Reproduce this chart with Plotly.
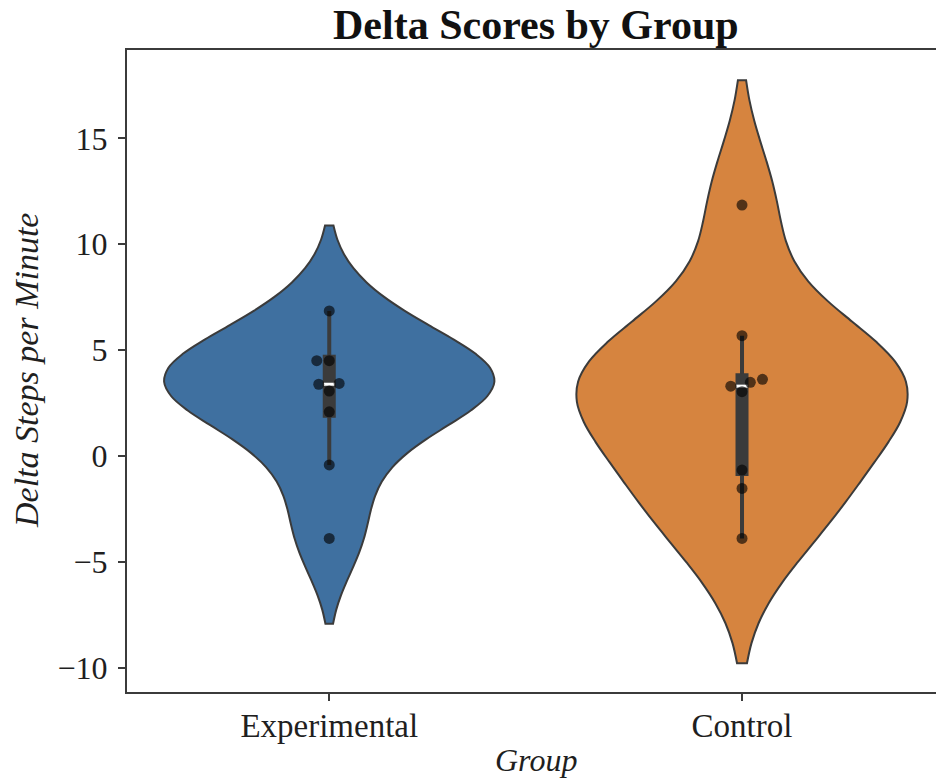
import numpy as np
import plotly.graph_objects as go

# ---- data ----
groups = ["Experimental", "Control"]
experimental = [6.85, 4.50, 4.50, 3.39, 3.43, 3.07, 2.09, -0.42, -3.89]
control = [11.85, 5.68, 3.30, 3.48, 3.62, 3.04, -0.66, -1.53, -3.89]
series = [experimental, control]
fill_colors = ["#3f70a0", "#d6843f"]
y_ticks = [-10, -5, 0, 5, 10, 15]

# ---- layout geometry ----
W, H = 936, 778
M_L, M_R, M_T, M_B = 127, 0, 50, 86
X_RANGE = [-0.49, 1.47]
Y_RANGE = [-11.14, 19.17]
px_per_x = (W - M_L - M_R) / (X_RANGE[1] - X_RANGE[0])
px_per_y = (H - M_T - M_B) / (Y_RANGE[1] - Y_RANGE[0])

EDGE = "#3b3b3b"
FONT = "Liberation Serif"
TEXT = "#1f1f1f"


def scott_bw(vals):
    v = np.asarray(vals, float)
    return v.std(ddof=1) * len(v) ** (-1 / 5)


def swarm_offsets(vals, d_px=12.5):
    """Simple beeswarm: place points (sorted by value) at the offset closest
    to the centre line that does not overlap already placed points."""
    v = np.asarray(vals, float)
    order = np.argsort(v, kind="stable")
    placed = []
    out = np.zeros(len(v))
    for i in order:
        y = v[i] * px_per_y
        cands = [0.0]
        for px, py in placed:
            dy = abs(y - py)
            if dy < d_px:
                dx = np.sqrt(d_px ** 2 - dy ** 2)
                cands += [px - dx, px + dx]
        cands.sort(key=lambda c: (round(abs(c), 6), c))
        for c in cands:
            if all((c - px) ** 2 + (y - py) ** 2 >= d_px ** 2 - 1e-6 for px, py in placed):
                break
        placed.append((c, y))
        out[i] = c / px_per_x
    return out


fig = go.Figure()

for pos, (name, vals, col) in enumerate(zip(groups, series, fill_colors)):
    v = np.asarray(vals, float)
    bw = scott_bw(v)
    fig.add_trace(go.Violin(
        x=[pos] * len(v), y=v, name=name,
        bandwidth=bw, spanmode="soft", scalemode="width", width=0.8,
        fillcolor=col, opacity=1, line=dict(color=EDGE, width=2),
        points=False, box_visible=False, meanline_visible=False,
        hoverinfo="skip", showlegend=False,
    ))

    # inner box: whiskers, interquartile bar, median
    q1, med, q3 = np.percentile(v, [25, 50, 75])
    iqr = q3 - q1
    lo = v[v >= q1 - 1.5 * iqr].min()
    hi = v[v <= q3 + 1.5 * iqr].max()
    cap = 6 / px_per_y
    fig.add_trace(go.Scatter(
        x=[pos, pos], y=[lo, hi], mode="lines",
        line=dict(color=EDGE, width=4), hoverinfo="skip", showlegend=False,
    ))
    fig.add_trace(go.Scatter(
        x=[pos, pos], y=[q1 - cap, q3 + cap], mode="lines",
        line=dict(color=EDGE, width=13), hoverinfo="skip", showlegend=False,
    ))
    fig.add_trace(go.Scatter(
        x=[pos], y=[med], mode="markers",
        marker=dict(symbol="line-ew", size=8, color="white",
                    line=dict(color="white", width=3)),
        hoverinfo="skip", showlegend=False,
    ))

    # swarm of observations
    fig.add_trace(go.Scatter(
        x=pos + swarm_offsets(v), y=v, mode="markers",
        marker=dict(size=11, color="rgba(0,0,0,0.62)", line=dict(width=0)),
        hoverinfo="skip", showlegend=False,
    ))

mid_axes = (0.5 - X_RANGE[0]) / (X_RANGE[1] - X_RANGE[0])
plot_h = H - M_T - M_B
plot_w = W - M_L - M_R

fig.update_layout(
    width=W, height=H,
    margin=dict(l=M_L, r=M_R, t=M_T, b=M_B, pad=0),
    paper_bgcolor="white", plot_bgcolor="white",
    violinmode="overlay",
    font=dict(family=FONT, size=32, color=TEXT),
    annotations=[
        dict(text="<b>Delta Scores by Group</b>", xref="paper", yref="paper",
             x=mid_axes, y=1 + 25 / plot_h, xanchor="center", yanchor="middle",
             showarrow=False, font=dict(family=FONT, size=42, color="#111111")),
        dict(text="<i>Group</i>", xref="paper", yref="paper",
             x=mid_axes, y=-68 / plot_h, xanchor="center", yanchor="middle",
             showarrow=False, font=dict(family=FONT, size=32, color=TEXT)),
        dict(text="<i>Delta Steps per Minute</i>", xref="paper", yref="paper",
             x=-101 / plot_w, y=0.5, xanchor="center", yanchor="middle",
             textangle=-90, showarrow=False,
             font=dict(family=FONT, size=34, color=TEXT)),
    ],
)

fig.update_xaxes(
    range=X_RANGE, tickmode="array", tickvals=[0, 1], ticktext=groups,
    showgrid=False, zeroline=False,
    showline=True, linecolor=EDGE, linewidth=2, mirror=True,
    ticks="outside", ticklen=7, tickwidth=1.6, tickcolor=EDGE,
    tickfont=dict(family=FONT, size=33, color=TEXT),
    ticklabelstandoff=-4,
)
fig.update_yaxes(
    range=Y_RANGE, tickmode="array", tickvals=y_ticks,
    showgrid=False, zeroline=False,
    showline=True, linecolor=EDGE, linewidth=2, mirror=False,
    ticks="outside", ticklen=7, tickwidth=1.6, tickcolor=EDGE,
    tickfont=dict(family=FONT, size=32, color=TEXT),
    ticklabelstandoff=4,
)

fig.write_html("out.html")
